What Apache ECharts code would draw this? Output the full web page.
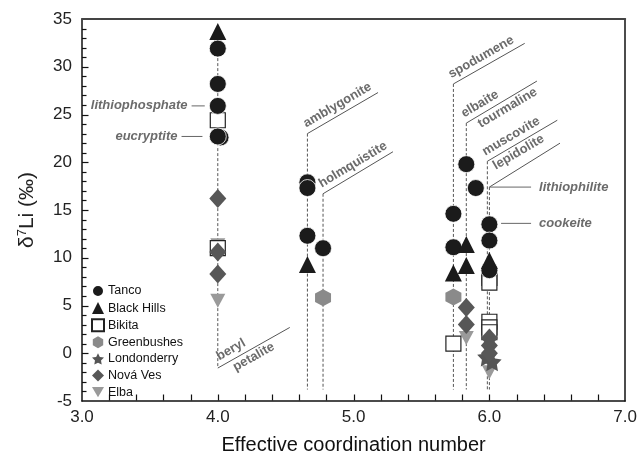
<!DOCTYPE html>
<html><head><meta charset="utf-8">
<script src="https://cdn.jsdelivr.net/npm/echarts@6/dist/echarts.min.js"></script>
<style>html,body{margin:0;padding:0;background:#fff}#c{width:640px;height:461px}</style>
</head><body><div id="c"></div>
<script>
// ---- data (x = effective coordination number, y = δ7Li ‰) ----
const seriesNames = ['Tanco','Black Hills','Bikita','Greenbushes','Londonderry','Nová Ves','Elba'];
const tanco = [[4.02,22.6],[4.0,31.9],[4.0,28.2],[4.0,25.9],[4.0,22.7],[4.66,17.9],[4.66,17.3],[4.66,12.3],[4.775,11.0],[5.735,14.6],[5.735,11.1],[5.83,19.8],[5.9,17.3],[6.0,13.5],[6.0,11.8],[6.0,8.7]];
const blackHills = [[4.0,33.7],[4.66,9.3],[5.735,8.4],[5.83,11.4],[5.83,9.2],[6.0,9.7]];
const bikita = [[4.0,24.4],[4.0,11.0],[5.735,1.0],[6.0,7.9],[6.0,7.4],[6.0,3.3],[6.0,2.7],[6.0,2.2]];
const greenbushes = [[4.775,5.8],[5.735,5.9]];
const londonderry = [[5.98,-0.4],[6.02,-0.9]];
const novaVes = [[4.0,16.2],[4.0,10.6],[4.0,8.3],[5.83,4.8],[5.83,3.0],[6.0,1.6],[6.0,0.8],[6.0,0.0]];
const elba = [[4.0,11.3],[4.0,5.5],[5.83,1.6],[6.0,-2.0]];
// mineral guide lines: [x, yTop, yBottom]
const guides = [[4.0,33.0,-1.55],[4.66,23.0,-3.8],[4.775,16.7,-3.8],[5.735,28.2,-3.8],[5.83,24.1,-3.8],[5.985,20.1,-3.8],[6.0,17.4,-3.8]];
// diagonal label lines: [name, x0, y0, x1, y1]
const diagonals = [['beryl',4.0,-1.55,4.53,2.7],['amblygonite',4.66,23.0,5.18,27.3],['holmquistite',4.775,16.7,5.29,21.1],['spodumene',5.735,28.2,6.26,32.45],['elbaite',5.83,24.1,6.35,28.5],['muscovite',5.985,20.1,6.5,24.4],['lepidolite',6.0,17.4,6.52,22.0]];
// diagonal texts: [text, line index, along px, side]
const diagTexts = [['beryl',0,5,'above'],['petalite',0,14,'below'],['amblygonite',1,2,'above'],['holmquistite',2,2,'above'],['spodumene',3,1,'above'],['elbaite',4,1,'above'],['tourmaline',4,10,'below'],['muscovite',5,1,'above'],['lepidolite',5,3,'below']];
// horizontal leaders: [text, x0, x1, y, side]
const leaders = [['lithiophosphate',3.807,3.904,25.9,'left'],['eucryptite',3.733,3.887,22.7,'left'],['lithiophilite',6.0,6.307,17.4,'right'],['cookeite',6.086,6.307,13.6,'right']];

const FONT = 'Liberation Sans, Arial, Helvetica, sans-serif';
const hexagon = 'path://M0,-10 L8.66,-5 L8.66,5 L0,10 L-8.66,5 L-8.66,-5 Z';
const star = 'path://M0,-10 L2.94,-4.05 L9.51,-3.09 L4.76,1.55 L5.88,8.09 L0,5 L-5.88,8.09 L-4.76,1.55 L-9.51,-3.09 L-2.94,-4.05 Z';
const downTri = 'path://M-10,-8.66 L10,-8.66 L0,8.66 Z';
const X_MIN = 3, X_MAX = 7, Y_MIN = -5, Y_MAX = 35;

const chart = echarts.init(document.getElementById('c'), null, {renderer:'canvas'});

const annSeries = [];
guides.forEach(g => annSeries.push({type:'line', data:[[g[0],g[1]],[g[0],g[2]]], symbol:'none', silent:true, z:1,
  lineStyle:{color:'#555', width:1, type:[3,2]}}));
diagonals.forEach(d => annSeries.push({type:'line', data:[[d[1],d[2]],[d[3],d[4]]], symbol:'none', silent:true, z:1,
  lineStyle:{color:'#555', width:1}}));
leaders.forEach(l => annSeries.push({type:'line', data:[[l[1],l[3]],[l[2],l[3]]], symbol:'none', silent:true, z:1,
  lineStyle:{color:'#666', width:1}}));

function sc(name, data, symbol, size, color, extra){
  return Object.assign({name, type:'scatter', data, symbol, symbolSize:size,
    itemStyle:{color, borderColor:'#fff', borderWidth:0.8, opacity:1}, z:3}, extra||{});
}
const dataSeries = [
  sc('Tanco', tanco, 'circle', 17, '#1b1b1b', {z:4}),
  sc('Black Hills', blackHills, 'triangle', 17, '#1b1b1b', {z:4, itemStyle:{color:'#1b1b1b', opacity:1}}),
  sc('Bikita', bikita, 'rect', 15, '#fff', {z:3, itemStyle:{color:'#fff', borderColor:'#222', borderWidth:1.2, opacity:1}}),
  sc('Greenbushes', greenbushes, hexagon, [16,17], '#8a8a8a', {itemStyle:{color:'#8a8a8a', opacity:1}}),
  sc('Londonderry', londonderry, star, 19, '#555', {z:3, itemStyle:{color:'#555', opacity:1}}),
  sc('Nová Ves', novaVes, 'diamond', [17,19], '#575757', {z:3, itemStyle:{color:'#575757', opacity:1}}),
  sc('Elba', elba, downTri, [15,14], '#9a9a9a', {z:2, itemStyle:{color:'#9a9a9a', opacity:1}})
];

const boxAxis = {axisLabel:{show:false}, axisTick:{show:false}, minorTick:{show:false}, splitLine:{show:false}, name:''};
chart.setOption({
  animation:false,
  textStyle:{fontFamily:FONT},
  grid:{left:82, right:14, top:19, bottom:60},
  legend:{data:seriesNames, orient:'vertical', left:91, top:284, itemGap:3.6, itemWidth:12, itemHeight:12,
    textStyle:{fontSize:12.5, color:'#111', fontFamily:FONT, padding:[0,0,0,-1]}, padding:0},
  xAxis:[{type:'value', min:X_MIN, max:X_MAX, interval:1, position:'bottom',
    name:'Effective coordination number', nameLocation:'middle', nameGap:34,
    nameTextStyle:{fontSize:20, color:'#111', fontFamily:FONT},
    axisLine:{show:true, onZero:false, lineStyle:{color:'#111', width:1.5}},
    axisTick:{show:false}, minorTick:{show:false},
    splitLine:{show:false},
    axisLabel:{fontSize:17, color:'#222', margin:8, formatter:v=>v.toFixed(1)}},
    Object.assign({type:'value', min:X_MIN, max:X_MAX, position:'top', axisLine:{show:true, onZero:false, lineStyle:{color:'#444', width:2}}}, boxAxis)],
  yAxis:[{type:'value', min:Y_MIN, max:Y_MAX, interval:5, position:'left',
    name:'{a|δ}{s|7}{a|Li (‰)}', nameLocation:'middle', nameGap:44, nameRotate:90,
    nameTextStyle:{rich:{a:{fontSize:21, color:'#222', fontFamily:FONT}, s:{fontSize:13, color:'#222', fontFamily:FONT, verticalAlign:'top', padding:[0,0,9,0]}}},
    axisLine:{show:true, onZero:false, lineStyle:{color:'#111', width:1.5}},
    axisTick:{show:false}, minorTick:{show:false},
    splitLine:{show:false},
    axisLabel:{fontSize:17, color:'#222', margin:10}},
    Object.assign({type:'value', min:Y_MIN, max:Y_MAX, position:'right', axisLine:{show:true, onZero:false, lineStyle:{color:'#111', width:1.5}}}, boxAxis)],
  series: annSeries.concat(dataSeries)
});

const px = (x, y) => chart.convertToPixel({xAxisIndex:0, yAxisIndex:0}, [x, y]);
const g = [];
// x-axis inward tick marks
for (let i = 1; i < 20; i++) {
  const p = px(X_MIN + i*0.2, Y_MIN);
  const x = Math.round(p[0]) + 0.5;
  g.push({type:'line', silent:true, z:20, shape:{x1:x, y1:p[1]-0.5, x2:x, y2:p[1]-6.5}, style:{stroke:'#111', lineWidth:1.2}});
}
// y-axis inward tick marks, drawn as thin filled bars on a top layer
const axisX = px(X_MIN, 0)[0];
for (let v = Y_MIN + 1; v < Y_MAX; v++) {
  const yPix = chart.convertToPixel({yAxisIndex:0}, v);
  const len = (v % 5 === 0) ? 6.5 : 4.5;
  g.push({type:'rect', silent:true, z:100, zlevel:1,
    shape:{x:axisX, y:Math.round(yPix) - 0.1, width:len, height:1.2},
    style:{fill:'#111', stroke:null}});
}
// text annotations
const labelColor = '#6b6b6b';
diagTexts.forEach(t => {
  const d = diagonals[t[1]];
  const p0 = px(d[1], d[2]), p1 = px(d[3], d[4]);
  const dx = p1[0]-p0[0], dy = p1[1]-p0[1];
  const len = Math.hypot(dx,dy);
  const ux = dx/len, uy = dy/len;
  const nx = uy, ny = -ux; // upward normal
  const sgn = t[3]==='above' ? 1 : -1;
  const off = t[3]==='above' ? 3 : 1.5;
  const x = p0[0] + ux*t[2] + nx*off*sgn, y = p0[1] + uy*t[2] + ny*off*sgn;
  const va = t[3]==='above'?'bottom':'top';
  g.push({type:'text', x, y, rotation: Math.atan2(-dy, dx), silent:true, z:10,
    style:{text:t[0], fill:labelColor, font:'bold 13px '+FONT, align:'left', verticalAlign:va}});
});
leaders.forEach(l => {
  const p0 = px(l[1], l[3]), p1 = px(l[2], l[3]);
  const left = l[4]==='left';
  const al = left?'right':'left';
  g.push({type:'text', x: left ? p0[0]-4 : p1[0]+8, y: p0[1], silent:true, z:10,
    style:{text:l[0], fill:labelColor, font:'italic bold 13px '+FONT, align:al, verticalAlign:'middle'}});
});
chart.setOption({graphic:g});
</script></body></html>
